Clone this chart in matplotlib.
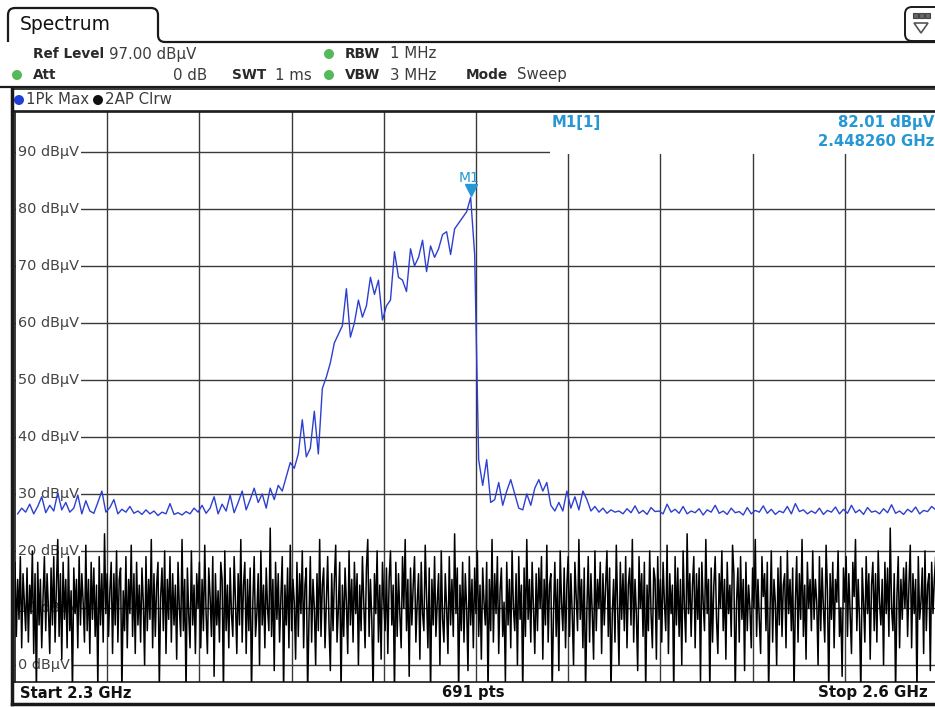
import numpy as np
import matplotlib
matplotlib.use("Agg")
import matplotlib.pyplot as plt
from matplotlib.patches import FancyBboxPatch, Rectangle, Circle, Polygon
from matplotlib.path import Path
from matplotlib.patches import PathPatch
import matplotlib.transforms as mtransforms

# ---------------- data ----------------
start_ghz = 2.3
stop_ghz = 2.6
sweep_points = 691
ref_level_dbuv = 97.0
bottom_level_dbuv = -3.0
grid_levels = [90, 80, 70, 60, 50, 40, 30, 20, 10, 0]
level_labels = ["90 dBµV", "80 dBµV", "70 dBµV", "60 dBµV", "50 dBµV",
                "40 dBµV", "30 dBµV", "20 dBµV", "10 dBµV", "0 dBµV"]
grid_freqs_ghz = [2.33, 2.36, 2.39, 2.42, 2.45, 2.48, 2.51, 2.54, 2.57]

marker_name = "M1"
marker_freq_ghz = 2.448260
marker_level_dbuv = 82.01

# trace 1 (Pk Max), every 3rd sweep point starting at point 2
pk_max_first_point = 2
pk_max_step = 3
pk_max_dbuv = [
    26.5, 27.5, 26.8, 28.2, 26.5, 27.8, 29.5, 26.7, 28.0, 27.0,
    30.2, 27.2, 28.5, 26.8, 27.5, 29.8, 26.5, 28.8, 27.0, 26.6,
    28.5, 30.5, 26.8, 27.6, 29.0, 26.5, 27.3, 26.8, 27.8, 26.6,
    27.0, 26.4, 27.2, 26.5, 27.0, 26.2, 26.8, 26.5, 28.3, 26.4,
    26.7, 26.3, 26.9, 26.5, 27.5, 26.8, 28.0, 26.6, 27.5, 29.5,
    26.5, 28.2, 27.0, 29.8, 26.7, 28.5, 30.5, 27.2, 29.0, 31.0,
    28.5, 30.0, 27.5, 31.0, 29.0, 31.5, 30.5, 33.0, 35.5, 34.5,
    37.0, 43.0, 36.5, 38.0, 44.5, 37.0, 48.5, 50.5, 53.0, 56.5,
    58.0, 59.5, 66.0, 57.5, 60.0, 64.0, 61.0, 63.0, 68.0, 65.0,
    67.5, 60.5, 63.0, 64.0, 72.5, 68.0, 67.5, 65.5, 73.0, 70.0,
    71.5, 74.5, 69.0, 73.5, 71.5, 73.0, 75.5, 76.0, 72.0, 76.5,
    77.5, 78.5, 79.5, 82.01, 72.0, 36.0, 31.5, 36.0, 28.5,
    29.0, 32.0, 28.0, 30.5, 32.5, 30.0, 27.5, 27.2, 30.0, 28.0,
    31.0, 32.5, 30.5, 32.0, 28.0, 27.0, 28.5, 27.0, 30.5, 27.5,
    29.5, 27.2, 30.5, 29.0, 27.0, 27.8, 26.8,
    27.5, 26.6, 27.2, 26.8, 27.0, 26.5, 27.4, 26.7, 27.9, 26.6,
    27.1, 26.4, 27.6, 26.9, 27.0, 26.5, 28.2, 26.8, 27.3, 26.6,
    27.8, 26.5, 27.0, 26.7, 27.4, 26.3, 27.2, 26.8, 28.0, 26.6,
    27.0, 26.4, 27.5, 26.7, 26.9, 26.3, 27.6, 26.5, 27.1, 26.8,
    27.9, 26.6, 27.3, 26.4, 27.0, 26.7, 27.8, 26.5, 28.3, 26.9,
    27.2, 26.5, 27.0, 26.6, 27.5, 26.4, 27.1, 26.8, 27.7, 26.5,
    27.3, 26.6, 28.0, 26.7, 27.2, 26.4, 27.6, 26.8, 27.0, 26.5,
    27.4, 26.7, 28.1, 26.6, 27.0, 26.4, 27.3, 26.8, 27.7, 26.5,
    27.1, 26.9, 27.8, 27.2,
]

# trace 2 (AP Clrw), all sweep points
clrw_dbuv = [
    18, 5, 15, 8, 19, 3, 16, 11, 6, 17, 4, 14, 9, 20, 2, 16, -5, 18, 7, 15, 3, 12, 19,
    6, 16, 10, 2, 17, 7, 19, 4, 14, 22, 5, 16, 1, 18, 8, 15, 3, 19, 6, 13, -5, 17, 9,
    15, 3, 19, 7, 16, 11, 4, 21, 6, 15, 2, 18, 8, 17, 5, 14, -4, 19, 7, 16, 4, 23, 9,
    16, 5, 13, 18, 2, 16, 7, 20, 4, 15, 17, -5, 13, 6, 19, 3, 15, 9, 21, 5, 16, 2, 18,
    7, 14, 4, 17, 11, 0, 19, 6, 15, 8, 22, 3, 16, 5, 14, 18, -4, 12, 17, 6, 20, 2, 15,
    8, 19, 4, 16, 7, 14, 1, 18, 10, 5, 22, 6, 15, -5, 17, 9, 3, 20, 7, 14, 2, 16, 10,
    18, 3, 15, 6, 21, 9, 2, 17, 12, 5, 19, -2, 16, 7, 13, 4, 18, 15, -5, 20, 6, 14, 3,
    17, 9, 5, 19, 11, 2, 16, 7, 22, 4, 14, 18, 2, 15, 6, 17, -5, 11, 19, 5, 9, 16, 0,
    20, 7, 14, 3, 17, 10, 6, 24, 5, 15, -1, 18, 8, 16, 4, 12, 19, -5, 14, 7, 17, 3, 21,
    6, 15, 11, 1, 18, 5, 16, 9, 20, 3, 14, 17, -5, 8, 19, 4, 15, 10, 0, 16, 6, 22, 5,
    14, 17, 3, 11, 19, 7, -1, 16, 6, 15, 21, 4, 10, 18, -5, 14, 5, 17, 11, 2, 20, 7, 15,
    4, 18, 9, 16, 0, 14, 6, 19, 11, 3, 17, 22, 5, 15, 8, -5, 16, 9, 20, 4, 14, 1, 18,
    11, 6, 17, 2, 15, 20, 7, 14, -5, 18, 5, 16, 9, 3, 19, 10, 22, 6, 15, -2, 17, 7, 14,
    19, 4, 11, 16, 1, 18, 9, 6, 21, 12, 3, 17, -5, 15, 7, 19, 5, 11, 16, 0, 20, 8, 4,
    16, 10, 2, 19, 7, 15, 5, 23, 9, 17, -5, 14, 6, 18, 4, 16, 10, -1, 19, 7, 15, 3, 17,
    9, 20, 5, 14, 1, 17, 11, 7, 18, -5, 15, 6, 22, 4, 16, 9, 19, 2, 13, 17, 5, 11, -3,
    18, 7, 15, 3, 20, 10, 6, 16, 0, 19, 8, 14, -5, 17, 5, 22, 8, 15, 4, 18, 10, 2, 16,
    6, 17, 10, 19, 1, 15, 7, 21, 4, 14, 16, -5, 9, 18, 5, 15, -1, 20, 11, 6, 17, 3, 14,
    19, 5, 16, 9, 0, 18, 12, 6, 22, 8, 15, 3, 17, -5, 10, 19, 4, 16, 9, 1, 20, 6, 15,
    10, 18, 2, 16, 7, 14, 20, 5, 17, -5, 9, 15, 4, 21, 10, 0, 18, 8, 16, 6, 19, 3, 14,
    17, 7, 22, 4, 15, 9, -1, 19, 10, 16, 5, 18, -5, 14, 6, 20, 9, 3, 17, 15, 1, 19, 8,
    15, 4, 18, 11, 6, 21, 2, 16, 9, 14, -5, 19, 7, 17, 5, 15, 0, 20, 10, 4, 23, 9, 16,
    5, 14, 19, 3, 16, 8, 17, -3, 18, 11, 6, 22, 9, 15, -5, 17, 4, 14, 19, 8, 2, 16, 10,
    20, 6, 15, 1, 18, 9, 14, 5, 21, 16, -5, 11, 17, 4, 19, 8, 15, -1, 18, 6, 14, 10, 3,
    17, 10, 22, 5, 15, 8, 2, 19, 12, 16, 6, 18, -5, 9, 20, 4, 15, 11, 0, 17, 7, 19, 5,
    14, 16, 3, 20, 9, 15, 6, 17, -5, 11, 19, 4, 16, 8, 22, 5, 14, 1, 18, 10, 15, 6, 20,
    8, 15, 11, 0, 19, 6, 17, 10, 4, 21, 13, -5, 16, 8, 18, 3, 15, 11, 20, 5, 10, -2, 17,
    11, 19, 5, 16, 9, 2, 18, 12, 22, 6, 15, 8, -5, 17, 11, 4, 19, 9, 16, 1, 14, 18, 6,
    16, 4, 20, 11, 7, 15, 0, 18, 9, 17, 5, 24, 10, 6, 16, -5, 12, 19, 3, 15, 8, 17, 10,
    18, 5, 14, 21, 3, 16, 9, 15, -5, 19, 8, 11, 17, 2, 20, 6, 14, 16, -1, 18, 9, 15, 19,
    12,
]

header_row1 = [("Ref Level", True, 33), ("97.00 dBµV", False, 109),
               ("RBW", True, 345), ("1 MHz", False, 390)]
header_row2 = [("Att", True, 33), ("SWT", True, 232), ("1 ms", False, 275),
               ("VBW", True, 345), ("3 MHz", False, 390),
               ("Mode", True, 466), ("Sweep", False, 517)]

# ---------------- derived ----------------
span = stop_ghz - start_ghz
pt_step_ghz = span / (sweep_points - 1)
pk_f = start_ghz + (pk_max_first_point + pk_max_step * np.arange(len(pk_max_dbuv))) * pt_step_ghz
cl_f = np.linspace(start_ghz, stop_ghz, len(clrw_dbuv))

W, H = 935, 707
fig = plt.figure(figsize=(W / 100, H / 100), dpi=100)
fig.patch.set_facecolor("white")

bg = fig.add_axes([0, 0, 1, 1])
bg.set_xlim(0, W)
bg.set_ylim(H, 0)
bg.axis("off")

frame_col = "#1a1a1a"
txt_col = "#2a2a2a"
reg_col = "#3c3c3c"
cyan = "#2597d4"
green = "#55b85a"

# Tab outline
r = 7
verts = [(8, 42), (8, 8 + r), (8, 8), (8 + r, 8), (158 - r, 8), (158, 8), (158, 8 + r),
         (158, 42 - r), (158, 42), (158 + r, 42), (935, 42)]
codes = [Path.MOVETO, Path.LINETO, Path.CURVE3, Path.CURVE3, Path.LINETO, Path.CURVE3, Path.CURVE3,
         Path.LINETO, Path.CURVE3, Path.CURVE3, Path.LINETO]
bg.add_patch(PathPatch(Path(verts, codes), fill=False, lw=1.6, edgecolor=frame_col))
bg.text(20, 25, "Spectrum", fontsize=13.5, color="#111", va="center", ha="left")

# icon top right
bg.add_patch(FancyBboxPatch((905, 7), 36, 34, boxstyle="round,pad=0,rounding_size=7",
                            fill=True, facecolor="white", lw=1.4, edgecolor=frame_col))
for i in range(3):
    bg.add_patch(Rectangle((913 + i * 6, 13), 5, 5, facecolor="#666", edgecolor="#444", lw=0.8))
bg.add_patch(Polygon([(914, 23), (928, 23), (921, 33)], closed=True, fill=False, lw=1.2,
                     edgecolor="#555"))

# header texts
for row_y, row in [(54, header_row1), (75, header_row2)]:
    for s, b, x in row:
        bg.text(x, row_y, s, fontsize=9.8 if b else 10.8, fontweight="bold" if b else "normal",
                color=txt_col if b else reg_col, va="center", ha="left")
bg.text(207, 75, "0 dB", fontsize=10.8, color=reg_col, va="center", ha="right")
for (cx, cy) in [(329, 54), (17, 75), (329, 75)]:
    bg.add_patch(Circle((cx, cy), 5, facecolor=green, edgecolor="none"))

bg.plot([0, 935], [87, 87], color=frame_col, lw=1.6)

# trace legend row
bg.add_patch(Circle((19, 100), 5, facecolor="#1f3fd8", edgecolor="none"))
bg.text(26, 100, "1Pk Max", fontsize=10.8, color=reg_col, va="center", ha="left")
bg.add_patch(Circle((98, 100), 5, facecolor="#111", edgecolor="none"))
bg.text(105, 100, "2AP Clrw", fontsize=10.8, color=reg_col, va="center", ha="left")

# outer frame of diagram
bg.plot([12, 12], [88, 704], color=frame_col, lw=2.5)
bg.plot([12, 935], [704, 704], color=frame_col, lw=2.5)
bg.plot([12, 935], [89, 89], color=frame_col, lw=1.2)
bg.plot([12, 935], [111, 111], color=frame_col, lw=1.2)

# bottom texts
bg.text(20, 693, f"Start {start_ghz:g} GHz", fontsize=10.6, fontweight="bold", color="#111",
        va="center", ha="left")
bg.text(473, 693, f"{sweep_points} pts", fontsize=10.6, fontweight="bold", color="#111",
        va="center", ha="center")
bg.text(928, 693, f"Stop {stop_ghz:g} GHz", fontsize=10.8, fontweight="bold", color="#111",
        va="center", ha="right")

# ---------------- diagram ----------------
ax = fig.add_axes([15 / W, (H - 682) / H, 922 / W, 570 / H])
ax.set_xlim(start_ghz, stop_ghz)
ax.set_ylim(bottom_level_dbuv, ref_level_dbuv)
ax.set_xticks([])
ax.set_yticks([])
for sp in ax.spines.values():
    sp.set_color(frame_col)
    sp.set_linewidth(1.2)
ax.set_facecolor("white")

grid_col = "#3a3a3a"
for f in grid_freqs_ghz:
    ax.axvline(f, color=grid_col, lw=1.0, zorder=1)
for lv in grid_levels:
    ax.axhline(lv, color=grid_col, lw=1.0, zorder=1)

# marker info field masks the grid
ax.add_patch(Rectangle((535 / 922, (89.6 - bottom_level_dbuv) / (ref_level_dbuv - bottom_level_dbuv)),
                       1, 1, transform=ax.transAxes, facecolor="white", edgecolor="none", zorder=2))

ytr = mtransforms.blended_transform_factory(ax.transAxes, ax.transData)
for lv, lab in zip(grid_levels, level_labels):
    ax.text(3 / 922, lv, lab, transform=ytr, fontsize=10.4, color="#444", va="center", ha="left",
            zorder=3, bbox=dict(boxstyle="square,pad=0.15", facecolor="white", edgecolor="none"))

ax.plot(cl_f, clrw_dbuv, color="black", lw=1.1, zorder=4)
ax.plot(pk_f, pk_max_dbuv, color="#2d3fd0", lw=1.0, zorder=5)

# marker
mk_tr = mtransforms.offset_copy(ax.transData, fig=fig, x=0, y=5, units="points")
ax.plot([marker_freq_ghz], [marker_level_dbuv], marker="v", markersize=8, color=cyan,
        transform=mk_tr, zorder=6, clip_on=False)
lab_tr = mtransforms.offset_copy(ax.transData, fig=fig, x=-1, y=14, units="points")
ax.text(marker_freq_ghz, marker_level_dbuv, marker_name, transform=lab_tr, fontsize=10,
        color=cyan, ha="center", va="center", zorder=6)

fig.text(552 / W, 1 - 123 / H, f"{marker_name}[1]", fontsize=10.7, fontweight="bold", color=cyan,
         va="center", ha="left")
fig.text(934 / W, 1 - 123 / H, f"{marker_level_dbuv:.2f} dBµV", fontsize=10.7, fontweight="bold",
         color=cyan, va="center", ha="right")
fig.text(934 / W, 1 - 142 / H, f"{marker_freq_ghz:.6f} GHz", fontsize=10.7, fontweight="bold",
         color=cyan, va="center", ha="right")

fig.savefig("out.png", dpi=100, facecolor="white")
